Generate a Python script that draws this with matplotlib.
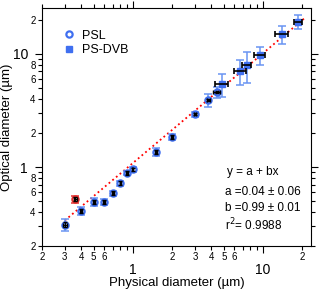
import matplotlib
matplotlib.use('Agg')
import matplotlib.pyplot as plt
from matplotlib.ticker import FixedLocator, FuncFormatter

plt.rcParams['font.family'] = ['Liberation Sans', 'DejaVu Sans']

# PSL spheres
psl_x = [0.3, 0.4, 0.5, 0.6, 0.7, 0.8, 0.9, 1.0, 1.5, 2.0, 3.0, 3.8, 4.4]
psl_y = [0.31, 0.41, 0.49, 0.49, 0.59, 0.72, 0.885, 0.96, 1.36, 1.84, 2.94, 3.92, 4.61]
psl_xerr = [0.01, 0.01, 0.01, 0.01, 0.01, 0.01, 0.01, 0.01, 0.02, 0.03, 0.05, 0.1, 0.25]
psl_yerr_in = [0.015, 0.015, 0.02, 0.02, 0.02, 0.03, 0.03, 0.03, 0.05, 0.06, 0.08, 0.1, 0.12]
psl_yerr = [0.037, 0.037, 0.04, 0.03, 0.03, 0.04, 0.04, 0.05, 0.1, 0.1, 0.15, 0.5, 0.5]

# outlier (red)
out_x = [0.36]
out_y = [0.52]
out_yerr = [0.04]

# PS-DVB particles
dvb_x = [4.8, 6.7, 7.5, 9.5, 14.0, 18.6]
dvb_y = [5.4, 7.1, 8.0, 9.8, 15.0, 19.2]
dvb_xerr = [0.55, 0.7, 0.6, 0.9, 1.7, 1.3]
dvb_yerr = [1.2, 1.8, 2.5, 1.8, 2.8, 2.7]

# fit
fit_a, fit_b = 0.04, 0.99
fit_x = [0.3, 21.0]

blue = '#3f6ff0'
blue_err = '#6a94f2'

fig = plt.figure(figsize=(3.2, 2.94), dpi=100)
ax = fig.add_axes([0.131, 0.163, 0.841, 0.810])
ax.set_xscale('log')
ax.set_yscale('log')

ax.plot(fit_x, [fit_a + fit_b * v for v in fit_x], ':', color='red', lw=1.3, zorder=1)

# blue y error bars
ax.errorbar(psl_x, psl_y, yerr=psl_yerr, fmt='none', ecolor=blue_err, elinewidth=1.1, capsize=3, capthick=1.1, zorder=2)
ax.errorbar(dvb_x, dvb_y, yerr=dvb_yerr, fmt='none', ecolor=blue_err, elinewidth=1.1, capsize=3, capthick=1.1, zorder=2)
ax.errorbar(out_x, out_y, yerr=out_yerr, fmt='none', ecolor='#e83030', elinewidth=1.1, capsize=3, capthick=1.1, zorder=2)

# markers
ax.plot(psl_x, psl_y, 'o', ms=4.5, mfc='none', mec=blue, mew=1.6, zorder=3, label='PSL')
ax.plot(dvb_x, dvb_y, 's', ms=5, color=blue, zorder=3, label='PS-DVB')
ax.plot(out_x, out_y, 'o', ms=4.5, mfc='none', mec='#e03030', mew=1.6, zorder=3)

# black error bars
ax.errorbar(psl_x, psl_y, xerr=psl_xerr, yerr=psl_yerr_in, fmt='none', ecolor='black', elinewidth=1, capsize=1.5, zorder=4)
ax.errorbar(out_x, out_y, xerr=[0.01], yerr=[0.02], fmt='none', ecolor='black', elinewidth=1, capsize=1.5, zorder=4)
ax.errorbar(dvb_x, dvb_y, xerr=dvb_xerr, fmt='none', ecolor='black', elinewidth=1.2, capsize=2.5, capthick=1.2, zorder=4)

ax.set_xlim(0.2, 23.4)
ax.set_ylim(0.2, 25.5)

ax.xaxis.set_major_locator(FixedLocator([1, 10]))
ax.yaxis.set_major_locator(FixedLocator([1, 10]))
ax.xaxis.set_minor_locator(FixedLocator([m * d for d in (0.1, 1, 10) for m in range(2, 10)]))
ax.yaxis.set_minor_locator(FixedLocator([m * d for d in (0.1, 1, 10) for m in range(2, 10)]))
ax.xaxis.set_major_formatter(FuncFormatter(lambda v, p: '%g' % v))
ax.yaxis.set_major_formatter(FuncFormatter(lambda v, p: '%g' % v))


def lead(v):
    return int(round(v / 10 ** int(f'{v:e}'.split('e')[1])))


ax.xaxis.set_minor_formatter(FuncFormatter(lambda v, p: str(lead(v)) if lead(v) <= 6 and v < 23 else ''))
ax.yaxis.set_minor_formatter(FuncFormatter(lambda v, p: str(lead(v)) if lead(v) % 2 == 0 else ''))

ax.tick_params(which='both', direction='out', top=True, right=True, width=0.8, colors='black')
ax.tick_params(which='major', length=5, labelsize=10, pad=7)
ax.tick_params(which='minor', length=3, labelsize=7, pad=1.5)
ax.tick_params(axis='y', which='major', pad=5)
for s in ax.spines.values():
    s.set_linewidth(0.8)

ax.set_xlabel('Physical diameter (µm)', fontsize=9.5, labelpad=0)
ax.set_ylabel('Optical diameter (µm)', fontsize=9.5, labelpad=0)

ax.legend(loc='upper left', bbox_to_anchor=(0.06, 0.93), frameon=False, fontsize=9,
          handletextpad=0.5, borderaxespad=0, labelspacing=0.2, handlelength=1.0)

ax.text(0.688, 0.31, 'y = a + bx', transform=ax.transAxes, fontsize=8.5, va='center')
ax.text(0.68, 0.227, 'a =0.04 ± 0.06', transform=ax.transAxes, fontsize=8.5, va='center')
ax.text(0.68, 0.16, 'b =0.99 ± 0.01', transform=ax.transAxes, fontsize=8.5, va='center')
ax.text(0.68, 0.09, 'r$^2$= 0.9988', transform=ax.transAxes, fontsize=8.5, va='center')

fig.savefig('out.png', dpi=100)
